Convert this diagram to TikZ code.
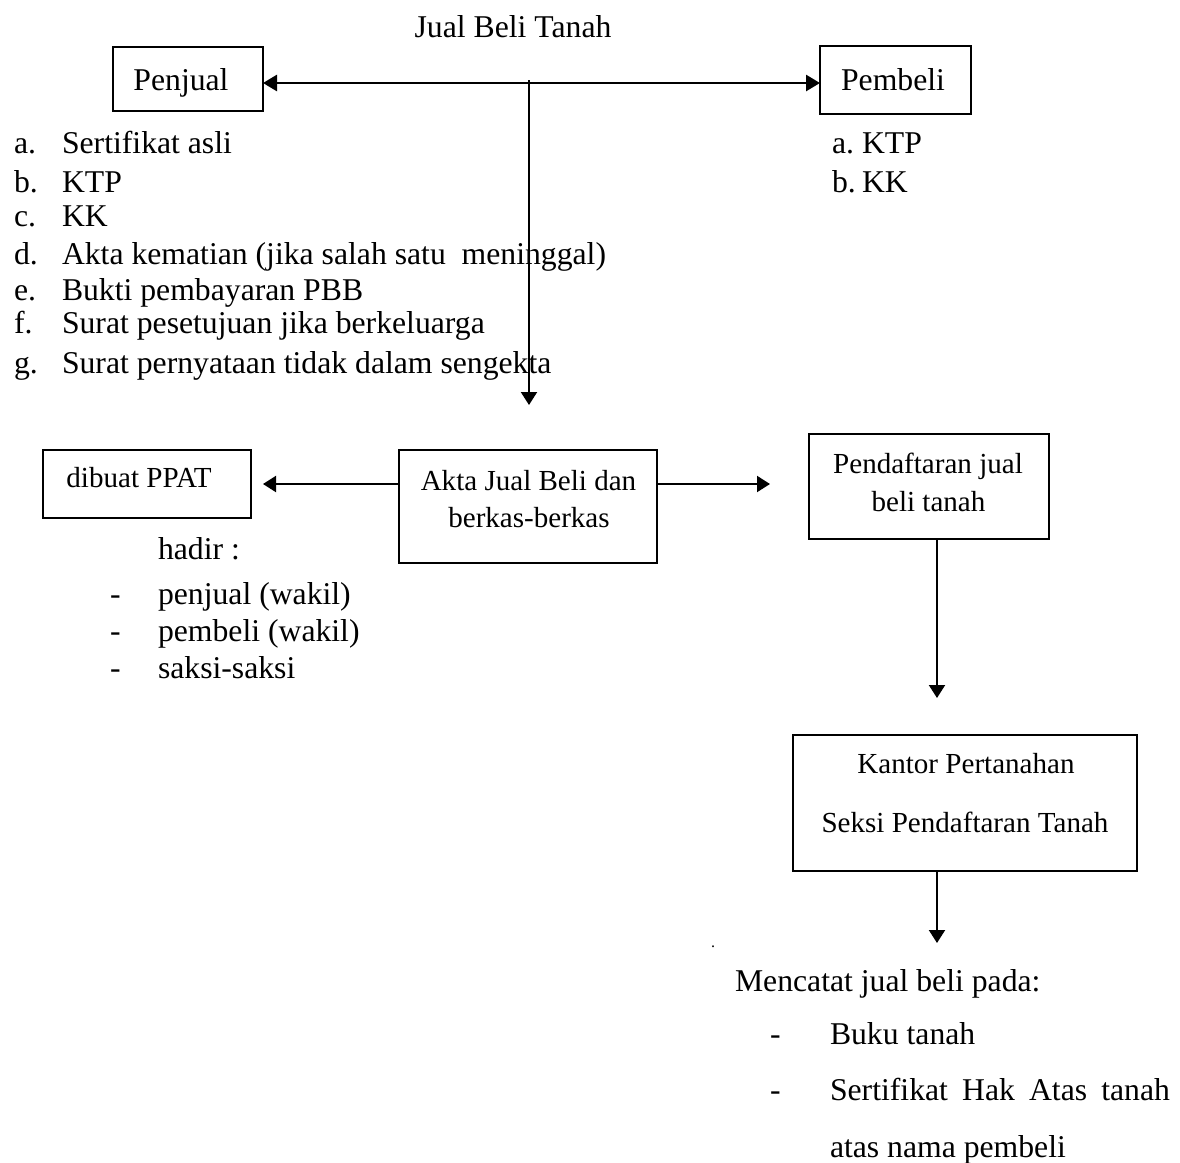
\documentclass[tikz,border=0pt]{standalone}
\usepackage{fontspec}
\setmainfont{Liberation Serif}
\usetikzlibrary{arrows.meta}
\newcommand{\dfont}{\fontsize{15.85pt}{18pt}\selectfont}
\newcommand{\bfontsmall}{\fontsize{14.53pt}{17pt}\selectfont}
\begin{document}
\begin{tikzpicture}[x=0.5pt,y=-0.5pt,
  every node/.style={font=\dfont, inner sep=0pt, outer sep=0pt},
  boxnode/.style={draw, line width=1.3pt, rectangle},
  txt/.style={anchor=base west},
  ctxt/.style={anchor=base},
  btxt/.style={anchor=base, font=\bfontsmall},
  conn/.style={line width=1pt, -{Triangle[length=6.5pt,width=8pt]}},
  dblconn/.style={line width=1.4pt, {Triangle[length=7pt,width=8pt]}-{Triangle[length=7pt,width=8pt]}}
]
\useasboundingbox (0,0) rectangle (1180,1163);

% title
\node[ctxt] (title) at (513,37) {Jual Beli Tanah};

% top boxes
\node[boxnode, minimum width=75pt, minimum height=32pt] (penjual) at (188,79) {};
\node[ctxt] (penjualt) at (181,90) {Penjual};
\node[boxnode, minimum width=75.5pt, minimum height=34pt] (pembeli) at (895.5,80) {};
\node[ctxt] (pembelit) at (893,90) {Pembeli};

\coordinate (hub) at (529,83);
\draw[dblconn] (penjual.east |- hub) -- (pembeli.west |- hub);
\coordinate (vtop) at (529,80);
\coordinate (vend) at (529,405);
\draw[conn] (vtop) -- (vend);

% seller list
\node[txt] (la) at (14,153) {a.};  \node[txt] (lat) at (62,153) {Sertifikat asli};
\node[txt] (lb) at (14,192) {b.};  \node[txt] (lbt) at (62,192) {KTP};
\node[txt] (lc) at (14,226) {c.};  \node[txt] (lct) at (62,226) {KK};
\node[txt] (ld) at (14,264) {d.};  \node[txt] (ldt) at (62,264) {Akta kematian (jika salah satu\ \ meninggal)};
\node[txt] (le) at (14,300) {e.};  \node[txt] (let) at (62,300) {Bukti pembayaran PBB};
\node[txt] (lf) at (14,333) {f.};  \node[txt] (lft) at (62,333) {Surat pesetujuan jika berkeluarga};
\node[txt] (lg) at (14,373) {g.};  \node[txt] (lgt) at (62,373) {Surat pernyataan tidak dalam sengekta};

% buyer list
\node[txt] (ra) at (832,153) {a.}; \node[txt] (rat) at (862,153) {KTP};
\node[txt] (rb) at (832,192) {b.}; \node[txt] (rbt) at (862,192) {KK};

% middle row
\node[boxnode, minimum width=104pt, minimum height=34pt] (ppat) at (147,484) {};
\node[btxt] (ppatt) at (139,487) {dibuat PPAT};
\node[boxnode, minimum width=129pt, minimum height=56.5pt] (akta) at (528,506.5) {};
\node[btxt] (aktat1) at (528.5,490) {Akta Jual Beli dan};
\node[btxt] (aktat2) at (529,527) {berkas-berkas};
\node[boxnode, minimum width=120pt, minimum height=52.5pt] (daftar) at (929,486.5) {};
\node[btxt] (daftart1) at (928,473) {Pendaftaran jual};
\node[btxt] (daftart2) at (928.5,511) {beli tanah};

\draw[conn, shorten >=6pt] (akta.west |- ppat.east) -- (ppat.east);
\draw[conn, shorten >=19.5pt] (akta.east |- ppat.east) -- (daftar.west |- ppat.east);

% hadir list
\node[txt] (hadir) at (158,559) {hadir :};
\node[txt] (h1) at (110,604) {-}; \node[txt] (h1t) at (158,604) {penjual (wakil)};
\node[txt] (h2) at (110,641) {-}; \node[txt] (h2t) at (158,641) {pembeli (wakil)};
\node[txt] (h3) at (110,678) {-}; \node[txt] (h3t) at (158,678) {saksi-saksi};

% kantor
\node[boxnode, minimum width=172pt, minimum height=68pt] (kantor) at (965,803) {};
\node[btxt] (kantort1) at (966,773) {Kantor Pertanahan};
\node[btxt] (kantort2) at (965,832) {Seksi Pendaftaran Tanah};

\coordinate (kx) at (937,0);
\draw[conn, shorten >=18.5pt] (daftar.south -| kx) -- (kantor.north -| kx);
\coordinate (kend) at (937,943);
\draw[conn] (kantor.south -| kx) -- (kend);

\node[ctxt, font=\fontsize{8pt}{9pt}\selectfont] (dot) at (713,947) {.};

% final text
\node[txt] (mencatat) at (735,991) {Mencatat jual beli pada:};
\node[txt] (m1) at (770,1044) {-}; \node[txt] (m1t) at (830,1044) {Buku tanah};
\node[txt] (m2) at (770,1100) {-}; \node[txt] (m2t) at (830,1100) {\makebox[170pt][s]{Sertifikat Hak Atas tanah}};
\node[txt] (m3t) at (830,1157) {atas nama pembeli};
\end{tikzpicture}
\end{document}
